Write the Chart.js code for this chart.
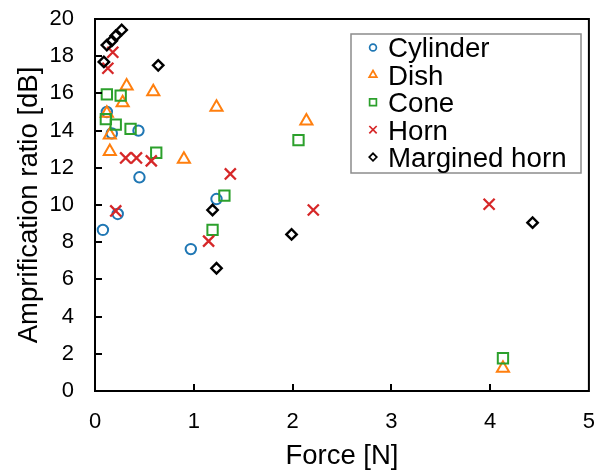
<!DOCTYPE html>
<html><head><meta charset="utf-8">
<script src="https://cdn.jsdelivr.net/npm/chart.js@4/dist/chart.umd.min.js"></script>
<style>html,body{margin:0;padding:0;background:#fff}#wrap{width:599px;height:470px;position:relative}</style>
</head><body><div id="wrap"><canvas id="c" width="599" height="470"></canvas></div>
<script>
// ---- data ----
const seriesNames = ['Cylinder', 'Dish', 'Cone', 'Horn', 'Margined horn'];
const cylinderX = [0.12, 0.17, 0.44, 0.45, 1.23, 0.08, 0.23, 0.97];
const cylinderY = [15.00, 13.85, 14.00, 11.49, 10.32, 8.66, 9.52, 7.63];
const dishX = [0.32, 0.59, 0.28, 1.23, 0.15, 0.15, 0.90, 0.12, 2.14, 4.13];
const dishY = [16.40, 16.09, 15.50, 15.25, 13.76, 12.87, 12.46, 14.93, 14.52, 1.22];
const coneX = [0.12, 0.26, 0.11, 0.21, 0.36, 0.62, 1.31, 1.19, 2.06, 4.13];
const coneY = [15.95, 15.88, 14.62, 14.32, 14.09, 12.81, 10.50, 8.66, 13.49, 1.76];
const hornX = [0.18, 0.13, 0.31, 0.42, 0.57, 1.37, 0.21, 1.15, 2.21, 3.99];
const hornY = [18.21, 17.35, 12.53, 12.53, 12.37, 11.67, 9.68, 8.06, 9.73, 10.04];
const margX = [0.27, 0.21, 0.17, 0.12, 0.09, 0.64, 1.19, 1.23, 1.99, 4.43];
const margY = [19.41, 19.10, 18.83, 18.60, 17.69, 17.51, 9.73, 6.60, 8.42, 9.05];
const xTicks = [0, 1, 2, 3, 4, 5];
const yTicks = [0, 2, 4, 6, 8, 10, 12, 14, 16, 18, 20];
const xTitle = 'Force [N]';
const yTitle = 'Amprification ratio [dB]';

// ---- styles ----
const colors = ['#1f77b4', '#ff7f0e', '#2ca02c', '#d62728', '#000000'];
const styles = ['circle', 'triangle', 'rect', 'crossRot', 'rectRot'];
const radii = [5.2, 7, 7.3, 7.8, 5.2];
const borderW = [2, 2, 2, 2.3, 2.4];
const legendRadii = [3.4, 4.4, 4.8, 5.2, 3.8];
const FONT = '"Liberation Sans", Arial, sans-serif';

const pts = (xs, ys) => xs.map((x, i) => ({x: x, y: ys[i]}));
const allX = [cylinderX, dishX, coneX, hornX, margX];
const allY = [cylinderY, dishY, coneY, hornY, margY];

const datasets = seriesNames.map((name, i) => ({
  label: name,
  data: pts(allX[i], allY[i]),
  pointStyle: styles[i],
  pointRadius: radii[i],
  pointHoverRadius: radii[i],
  pointBorderWidth: borderW[i],
  pointBorderColor: colors[i],
  pointBackgroundColor: 'rgba(0,0,0,0)',
  borderColor: colors[i],
  backgroundColor: 'rgba(0,0,0,0)',
  showLine: false,
  order: 4 - i
}));

function drawGlyph(ctx, style, x, y, r) {
  ctx.beginPath();
  if (style === 'circle') {
    ctx.arc(x, y, r, 0, Math.PI * 2);
  } else if (style === 'triangle') {
    const h = r;
    ctx.moveTo(x, y - h);
    ctx.lineTo(x + h * Math.sin(2 * Math.PI / 3), y + h / 2);
    ctx.lineTo(x - h * Math.sin(2 * Math.PI / 3), y + h / 2);
    ctx.closePath();
  } else if (style === 'rect') {
    const s = r * Math.SQRT1_2;
    ctx.rect(x - s, y - s, 2 * s, 2 * s);
  } else if (style === 'crossRot') {
    const s = r * Math.SQRT1_2;
    ctx.moveTo(x - s, y - s); ctx.lineTo(x + s, y + s);
    ctx.moveTo(x + s, y - s); ctx.lineTo(x - s, y + s);
  } else if (style === 'rectRot') {
    ctx.moveTo(x - r, y); ctx.lineTo(x, y - r); ctx.lineTo(x + r, y); ctx.lineTo(x, y + r);
    ctx.closePath();
  }
  ctx.stroke();
}

const framePlugin = {
  id: 'frame',
  afterDraw(chart) {
    const ctx = chart.ctx;
    const a = chart.chartArea;
    const xs = chart.scales.x, ys = chart.scales.y;
    ctx.save();
    ctx.strokeStyle = '#000';
    ctx.lineWidth = 2;
    ctx.strokeRect(a.left, a.top, a.right - a.left, a.bottom - a.top);
    const tl = 7;
    ctx.beginPath();
    xTicks.forEach(v => {
      const px = Math.round(xs.getPixelForValue(v));
      if (v > xs.min && v < xs.max) { ctx.moveTo(px, a.bottom); ctx.lineTo(px, a.bottom - tl); }
    });
    yTicks.forEach(v => {
      const py = Math.round(ys.getPixelForValue(v));
      if (v > ys.min && v < ys.max) { ctx.moveTo(a.left, py); ctx.lineTo(a.left + tl, py); }
    });
    ctx.stroke();

    // legend
    const bx = 351, by = 34, bw = 230, bh = 139;
    ctx.fillStyle = '#fff';
    ctx.fillRect(bx, by, bw, bh);
    ctx.strokeStyle = '#8c8c8c';
    ctx.lineWidth = 1.5;
    ctx.strokeRect(bx, by, bw, bh);
    ctx.font = '27.7px ' + FONT;
    ctx.textBaseline = 'alphabetic';
    ctx.textAlign = 'left';
    chart.data.datasets.forEach((ds, i) => {
      const cy = 47.5 + i * 27.4;
      ctx.strokeStyle = colors[i];
      ctx.lineWidth = 1.7;
      drawGlyph(ctx, styles[i], 373, cy, legendRadii[i]);
      ctx.fillStyle = '#000';
      ctx.fillText(ds.label, 388, cy + 9.9);
    });
    ctx.restore();
  }
};

new Chart(document.getElementById('c'), {
  type: 'scatter',
  data: {datasets: datasets},
  options: {
    responsive: false,
    animation: false,
    events: [],
    layout: {padding: {left: 0, right: 5, top: 19, bottom: 0}},
    plugins: {legend: {display: false}, tooltip: {enabled: false}},
    scales: {
      x: {
        type: 'linear', min: 0, max: 5,
        afterBuildTicks: s => { s.ticks = xTicks.map(v => ({value: v})); },
        ticks: {font: {family: FONT, size: 22}, color: '#000', padding: 18, maxRotation: 0, autoSkip: false},
        grid: {display: false, drawTicks: false},
        border: {display: false},
        title: {display: true, text: xTitle, font: {family: FONT, size: 27.5, lineHeight: 1}, color: '#000', padding: {top: 0, bottom: 0}},
        afterFit: s => { s.height = 79; s.paddingLeft = 0; s.paddingRight = 0; }
      },
      y: {
        type: 'linear', min: 0, max: 20,
        afterBuildTicks: s => { s.ticks = yTicks.map(v => ({value: v})); },
        ticks: {font: {family: FONT, size: 22}, color: '#000', padding: 21, autoSkip: false},
        grid: {display: false, drawTicks: false},
        border: {display: false},
        title: {display: true, text: yTitle, font: {family: FONT, size: 27.5, lineHeight: 1}, color: '#000', padding: {top: 15.5, bottom: 0}},
        afterFit: s => { s.width = 95; s.paddingTop = 0; s.paddingBottom = 0; }
      }
    }
  },
  plugins: [framePlugin]
});
</script>
</body></html>
